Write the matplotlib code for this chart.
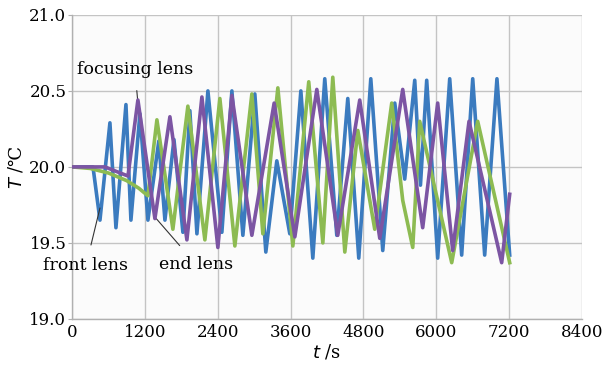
import matplotlib
matplotlib.use("Agg")
import matplotlib.pyplot as plt

# front lens (blue)
front_t = [0, 346, 461, 625, 724, 889, 971, 1119, 1251, 1430, 1531, 1680, 1827, 1942, 2058,
           2239, 2469, 2634, 2815, 3012, 3193, 3374, 3588, 3770, 3967, 4164, 4362, 4543, 4724,
           4922, 5119, 5317, 5481, 5646, 5740, 5843, 6024, 6222, 6419, 6601, 6798, 7000, 7210]
front_T = [20.0, 20.0, 19.65, 20.29, 19.60, 20.41, 19.65, 20.35, 19.65, 20.17, 19.65, 20.18, 19.57, 20.37, 19.56,
           20.50, 19.57, 20.50, 19.55, 20.48, 19.44, 20.04, 19.56, 20.50, 19.40, 20.58, 19.55, 20.45, 19.40,
           20.58, 19.45, 20.42, 19.92, 20.57, 19.88, 20.57, 19.40, 20.58, 19.42, 20.58, 19.42, 20.58, 19.42]

# end lens (green)
end_t = [0, 300, 600, 900, 1100, 1251, 1399, 1662, 1909, 2189, 2436, 2683, 2963, 3144, 3391,
         3638, 3900, 4132, 4296, 4494, 4708, 4987, 5267, 5448, 5613, 5728, 6255, 6683, 7210]
end_T = [20.0, 19.99, 19.96, 19.91, 19.86, 19.81, 20.31, 19.59, 20.40, 19.52, 20.45, 19.48, 20.48, 19.56, 20.52,
         19.48, 20.56, 19.50, 20.59, 19.44, 20.24, 19.59, 20.42, 19.78, 19.47, 20.30, 19.37, 20.30, 19.37]

# focusing lens (purple)
focus_t = [0, 543, 922, 1086, 1366, 1613, 1893, 2140, 2403, 2634, 2963, 3330, 3671, 4033, 4378,
           4740, 5070, 5448, 5777, 6024, 6271, 6540, 7078, 7210]
focus_T = [20.0, 20.0, 19.94, 20.44, 19.66, 20.33, 19.52, 20.46, 19.47, 20.47, 19.55, 20.42, 19.54, 20.51, 19.55,
           20.44, 19.53, 20.51, 19.60, 20.42, 19.45, 20.30, 19.37, 19.82]

x_ticks = [0, 1200, 2400, 3600, 4800, 6000, 7200, 8400]
y_ticks = [19.0, 19.5, 20.0, 20.5, 21.0]

fam = ["DejaVu Serif", "DejaVu Sans"]
plt.rcParams["font.family"] = fam

fig = plt.figure(figsize=(6.1, 3.73), dpi=100)
ax = fig.add_axes([0.118, 0.145, 0.836, 0.815])
ax.set_facecolor("#fbfbfb")

lw = 2.6
ax.plot(front_t, front_T, color="#3b7bbf", lw=lw, zorder=3)
ax.plot(end_t, end_T, color="#8dbb52", lw=lw, zorder=3)
ax.plot(focus_t, focus_T, color="#7c55a3", lw=lw, zorder=4)

ax.set_xlim(0, 8400)
ax.set_ylim(19.0, 21.0)
ax.set_xticks(x_ticks)
ax.set_yticks(y_ticks)
ax.set_yticklabels([f"{v:.1f}" for v in y_ticks])
ax.grid(True, color="#c4c4c4", lw=1.0)
ax.set_axisbelow(True)
for s in ["top", "right"]:
    ax.spines[s].set_visible(False)
for s in ["left", "bottom"]:
    ax.spines[s].set_color("#b0b0b0")
    ax.spines[s].set_linewidth(1.0)
ax.tick_params(axis="y", length=3, color="#b0b0b0", labelsize=12, pad=1)
ax.tick_params(axis="x", length=0, labelsize=12, pad=4)

ax.set_xlabel(r"$t$ /s", fontsize=13, labelpad=1)
ax.set_ylabel(r"$T$ /℃", fontsize=13, labelpad=3)

# annotations
ax.annotate("focusing lens", xy=(1086, 20.42), xytext=(1037, 20.64),
            fontsize=12.5, ha="center", va="center",
            arrowprops=dict(arrowstyle="-", color="#333333", lw=0.8,
                            shrinkA=7, shrinkB=0))
ax.annotate("front lens", xy=(461, 19.73), xytext=(230, 19.35),
            fontsize=12.5, ha="center", va="center",
            arrowprops=dict(arrowstyle="-", color="#333333", lw=0.8,
                            shrinkA=7, shrinkB=0))
ax.annotate("end lens", xy=(1366, 19.67), xytext=(2041, 19.36),
            fontsize=12.5, ha="center", va="center",
            arrowprops=dict(arrowstyle="-", color="#333333", lw=0.8,
                            shrinkA=7, shrinkB=0))

fig.savefig("out.png", dpi=100)
